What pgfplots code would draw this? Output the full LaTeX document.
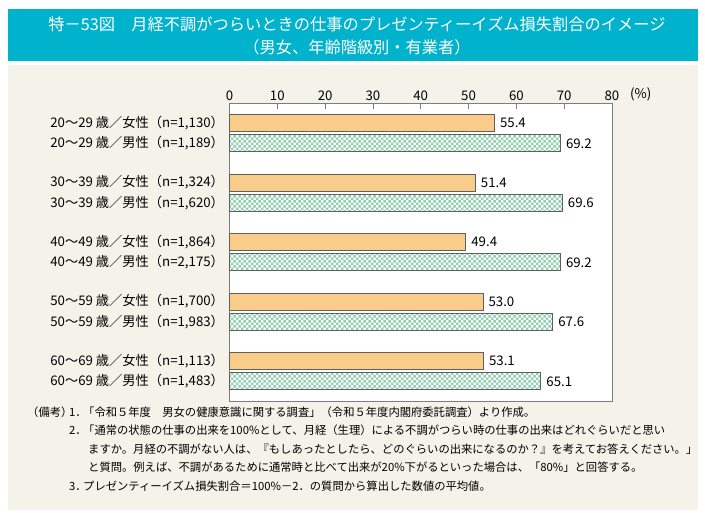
\documentclass[border=0pt]{standalone}
\usepackage{pgfplots}
\pgfplotsset{compat=1.18}
\usepackage{fontspec}
\setmainfont{Noto Sans CJK JP}
\usetikzlibrary{patterns}
\definecolor{titlecol}{RGB}{0,178,204}
\definecolor{beige}{RGB}{244,242,233}
\definecolor{barorange}{RGB}{250,204,138}
\definecolor{bargreen}{RGB}{145,208,175}
\definecolor{edgegray}{RGB}{95,95,95}
\definecolor{axisgray}{RGB}{125,125,125}
\pgfdeclarepatternformonly{checker}{\pgfpointorigin}{\pgfqpoint{5.4bp}{5.4bp}}{\pgfqpoint{5.4bp}{5.4bp}}{%
  \pgfpathrectangle{\pgfpointorigin}{\pgfqpoint{2.7bp}{2.7bp}}%
  \pgfpathrectangle{\pgfqpoint{2.7bp}{2.7bp}}{\pgfqpoint{2.7bp}{2.7bp}}%
  \pgfusepath{fill}}
\newcommand{\lblfont}{\fontsize{13.3}{15}\selectfont}
\newcommand{\notefont}{\fontsize{11.35}{14}\selectfont}
\begin{document}
\begin{tikzpicture}
\useasboundingbox (0,0) rectangle (705bp,-513bp);
\fill[white] (0,0) rectangle (705bp,-513bp);
\fill[titlecol] (8bp,-9bp) rectangle (698bp,-61bp);
\fill[beige] (8bp,-65bp) rectangle (698bp,-510bp);
\node[white,font=\fontsize{16.3}{18}\selectfont] at (357bp,-24bp) {特－53図　月経不調がつらいときの仕事のプレゼンティーイズム損失割合のイメージ};
\node[white,font=\fontsize{16.3}{18}\selectfont] at (357bp,-47bp) {（男女、年齢階級別・有業者）};
\begin{axis}[
  at={(229.5bp,-103.5bp)}, anchor=north west,
  width=382.5bp, height=297.5bp, scale only axis,
  xmin=0, xmax=80, ymin=103.5, ymax=401, y dir=reverse,
  axis background/.style={fill=white},
  axis line style={draw=axisgray, line width=0.8bp},
  /pgf/number format/assume math mode=true,
  xbar, bar width=17, bar shift=0pt,
  xtick={0,10,...,80},
  xtick pos=right, xticklabel pos=right,
  tick align=inside, major tick length=5bp,
  x tick style={draw=axisgray, line width=0.6bp},
  xticklabel style={font=\lblfont, yshift=-1bp},
  ytick={123,143.3,182.5,202.8,242,262.3,301.5,321.8,361,381.3},
  yticklabels={
    {20〜29 歳／女性（n=1,130）}, {20〜29 歳／男性（n=1,189）},
    {30〜39 歳／女性（n=1,324）}, {30〜39 歳／男性（n=1,620）},
    {40〜49 歳／女性（n=1,864）}, {40〜49 歳／男性（n=2,175）},
    {50〜59 歳／女性（n=1,700）}, {50〜59 歳／男性（n=1,983）},
    {60〜69 歳／女性（n=1,113）}, {60〜69 歳／男性（n=1,483）}},
  y tick style={draw=none},
  yticklabel style={font=\lblfont, xshift=-2bp},
  nodes near coords,
  nodes near coords style={font=\lblfont, anchor=west, xshift=2bp, text=black,
    /pgf/number format/fixed, /pgf/number format/precision=1, /pgf/number format/fixed zerofill},
  clip=false,
]
\addplot[draw=edgegray, line width=0.7bp, fill=barorange] coordinates {
  (55.4,123) (51.4,182.5) (49.4,242) (53.0,301.5) (53.1,361)};
\addplot[draw=edgegray, line width=0.7bp, fill=white,
  postaction={pattern=checker, pattern color=bargreen}] coordinates {
  (69.2,143.3) (69.6,202.8) (69.2,262.3) (67.6,321.8) (65.1,381.3)};
\end{axis}
\node[font=\lblfont, anchor=west, inner sep=0pt] at (630bp,-94bp) {(\%)};
\begin{scope}[font=\notefont]
\node[anchor=west, inner sep=0pt] at (27bp,-412bp) {（備考）};
\node[anchor=west, inner sep=0pt] at (69bp,-412bp) {1．};
\node[anchor=west, inner sep=0pt] at (83bp,-412bp) {「令和５年度　男女の健康意識に関する調査」（令和５年度内閣府委託調査）より作成。};
\node[anchor=west, inner sep=0pt] at (69bp,-430.5bp) {2．};
\node[anchor=west, inner sep=0pt] at (83bp,-430.5bp) {「通常の状態の仕事の出来を100\%として、月経（生理）による不調がつらい時の仕事の出来はどれぐらいだと思い};
\node[anchor=west, inner sep=0pt] at (88bp,-449bp) {ますか。月経の不調がない人は、『もしあったとしたら、どのぐらいの出来になるのか？』を考えてお答えください。」};
\node[anchor=west, inner sep=0pt] at (88bp,-467.5bp) {と質問。例えば、不調があるために通常時と比べて出来が20\%下がるといった場合は、「80\%」と回答する。};
\node[anchor=west, inner sep=0pt] at (69bp,-486bp) {3．};
\node[anchor=west, inner sep=0pt] at (83bp,-486bp) {プレゼンティーイズム損失割合＝100\%－2．の質問から算出した数値の平均値。};
\end{scope}
\end{tikzpicture}
\end{document}
